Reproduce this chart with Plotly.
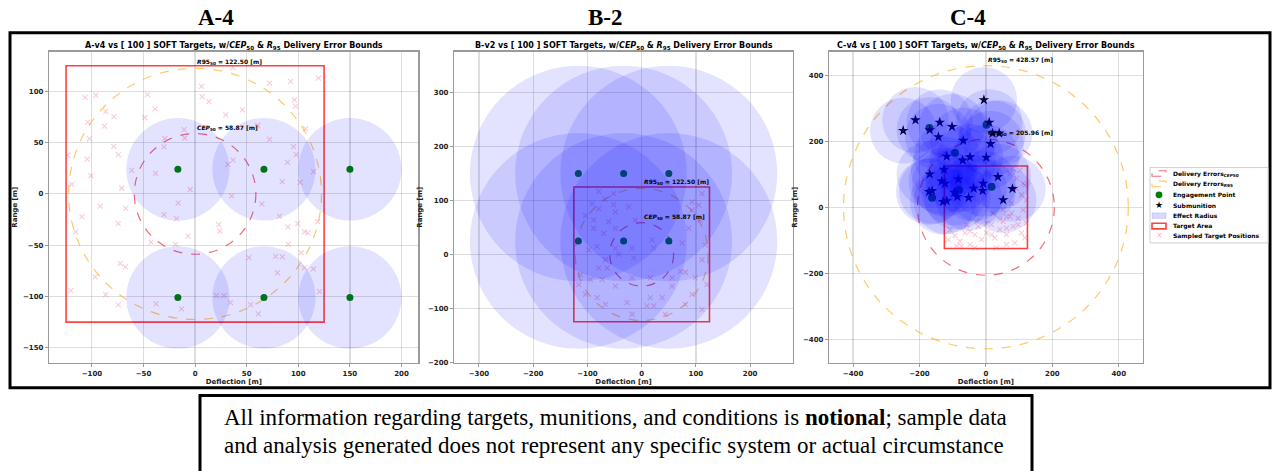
import plotly.graph_objects as go

W, H = 1273, 471

# ---------------- data ----------------
panel_labels = ["A-4", "B-2", "C-4"]
panel_systems = ["A-v4", "B-v2", "C-v4"]
n_targets = 100
target_half = 125.0
cep50 = [58.87, 58.87, 205.96]
r95 = [122.50, 122.50, 428.57]
effect_radius = [50.0, 200.0, 100.0]

a_eng_x = [-16.7, 66.7, 150.0, -16.7, 66.7, 150.0]
a_eng_y = [24, 24, 24, -101, -101, -101]
b_eng_x = [-116.7, -33.3, 50.0, -116.7, -33.3, 50.0]
b_eng_y = [150, 150, 150, 25, 25, 25]
c_eng_x = [-170, 2, -93, -81, -162, 17]
c_eng_y = [240, 250, 165, 52, 29, 62]

c_sub_x = [-6, -212, -249, -139, -102, -169, -143, -68, 10, 14, 20, 40, -118, -48, -70, 1, -126,
           -169, -133, -83, -123, -8, 36, -10, -37, 80, -171, -162, -95, -86, -52, -129, -118, 52]
c_sub_y = [325, 264, 232, 257, 244, 234, 213, 202, 257, 192, 224, 224, 154, 152, 142, 151, 114,
           100, 79, 85, 72, 72, 92, 50, 57, 56, 47, 50, 45, 32, 29, 17, 19, 22]

a_tgt_x = [-106.6, -96.2, -86.6, -78.6, -104, -87.9, -102.4, -78.9, -74.4, -104.6,
           -100.8, -119.4, -123.3, -46, -38.9, -48.9, -10.6, -10, -29.3, -30.2,
           -61.4, -38.3, -4.8, -71.1, -16.4, -30.2, -18, -91.8, -67.2, -109.8,
           -74.4, -115.6, -6.8, -42.8, -18.9, -72.5, -67.6, -96.9, -86.6, -120.4,
           -74.4, -37.7, -13.1,
           36.7, 6.2, 72.2, 92.5, 119.5, 6.8, 13.5, 96.3, 97.3, 45.8,
           29.7, 60.6, 107, 72.2, 95.4, 98, 36.7, 31.9, 89.6, 84.4,
           35.5, 101.8, 114.7, 64.7, 81.8, 22.9, 23.9, 89.9, 118.6, 109.2,
           52.2, 78, 84.4, 79.9, 106, 20.7, 28, 34.2, 53.8, 61.3,
           120.5, 114.7, 102.8, 106, 99.5, 90.2]
a_tgt_y = [94.2, 96.4, 80.3, 75.4, 70, 66.1, 53.9, 46.4, 38.4, 33.8,
           17.8, 9.4, 37.7, 96.7, 82.9, 74.5, 62.6, 54.5, 53.9, 45.8,
           22.9, 20, 4.3, 5.5, -9, -20.3, -24.2, -11.9, -14.1, -22.2,
           -29, -37, -41.2, -47, -49.3, -68, -71.2, -80.9, -98.3, -94.4,
           -108.3, -107.3, -112.2,
           123.2, 104.8, 108, 109.7, 112.9, 94.8, 89.9, 91.6, 85.5, 81.9,
           77.1, 66.7, 63.5, 53.2, 46.1, 38.4, 32.9, 28.7, 30.7, 12,
           -1.9, 11.3, 21.7, -9.7, -21.9, -30, -36.4, -32.2, -27.1, -38,
           -62.2, -60.9, -61.5, -77, -71.9, -99.2, -99.2, -106, -107.9, -117,
           -95.4, -73.1, -57.3, -37, -29, -49.3]

b_tgt_x = [-79.2, -51.6, -68.1, -91.3, -51.6, -23.9, -79.2, -48.4, -103.7, -88.4,
           -60.8, -11.6, -88.4, -70, -48.4, -82.1, -97.6, 19.2, -48.4, -17.7,
           22.1, -42.4, -66.9, -14.7, 86.6, 74.4, 108.1, 92.8, 105, 92.8,
           111.2, -112.9, -94.5, -72.9, -48.4, -17.7, 16, 56, 71.3, 80.5,
           98.9, -103.7, -82.1, -66.9, -26.9, 16, 37.6, 56, 92.8, 80.5,
           9.9, 22.1, -17.7, 43.6, 111.2, 120.4, 111.2, 117.3, -79.2, -63.7, -116]
b_tgt_y = [116.9, 112.7, 102.2, 94.3, 92.5, 88.2, 85.1, 79, 71.7, 63.6,
           60.7, 63.6, 48.3, 39.2, 48.3, 14.7, 8.5, 26.8, 11.6, 11.6,
           11.6, 0.6, -9.9, -6.8, 48.3, 20.8, 63.6, 82, 91.2, 97.4,
           112.7, -37.5, -46.7, -46.7, -58.8, -43.6, -43.6, -43.6, -31.3, -33.1,
           -43.6, -74.3, -80.3, -92.6, -89.5, -80.3, -80.3, -58.8, -74.3, -92.6,
           -95.6, -95.6, -111, -111, -101.8, -55.9, -9.9, 17.6, -25.2, -25.2, -55.9]

c_tgt_x = [-93, -78, -63, -48, -33, -23, -13, 2, 17, 27, 42, 52, 62, 72, 82, 87, 97, 107, 112, 102,
           82, 92, 112, 107, 77, 52, 22, -28, -58, -88, -33, 32, 62, 117, 122, 42, 2, -48, -73, -113,
           92, 72, 122, 77, 17, -108, 62, 97, 62, 117]
c_tgt_y = [-86, -103, -78, -113, -83, -58, -98, -78, -53, -93, -68, -43, -83, -28, -58, -108, -33, -78, -8, 112,
           117, 87, 72, 37, 12, -8, -18, -43, -53, -118, -123, -123, -113, -93, -48, -38, -48, -73, -118, -98,
           57, 102, 22, -18, -83, -68, -63, -53, -28, 67]

a_xticks = [-100, -50, 0, 50, 100, 150, 200]
a_yticks = [-150, -100, -50, 0, 50, 100]
b_xticks = [-300, -200, -100, 0, 100, 200]
b_yticks = [-200, -100, 0, 100, 200, 300]
c_xticks = [-400, -200, 0, 200, 400]
c_yticks = [-400, -200, 0, 200, 400]

axis_ranges = {
    "A": ([-141.25, 216.25], [-164.8, 138.8]),
    "B": ([-345.4, 278.4], [-201.25, 376.25]),
    "C": ([-471.4, 471.4], [-471.4, 471.4]),
}

# ---------------- layout geometry (pixels) ----------------
panel_px = [(49.3, 418.3), (454.3, 792.7), (829.3, 1142.5)]
plot_top, plot_bot = 52, 366


def fx(px):
    return px / W


def fy(py):
    return 1 - py / H


SANS = "DejaVu Sans"
SERIF = "Liberation Serif"
EFFECT_FILL = "rgba(0,0,255,0.11)"
CEP_COLOR = "rgba(235,30,50,0.65)"
R95_COLOR = "rgba(255,165,0,0.6)"
RECT_COLOR = "rgba(255,0,0,0.75)"
TGT_COLOR = "rgba(240,90,130,0.32)"

fig = go.Figure()
shapes = []
annotations = []

panels = [
    ("A", a_tgt_x, a_tgt_y, a_eng_x, a_eng_y, None, None, a_xticks, a_yticks),
    ("B", b_tgt_x, b_tgt_y, b_eng_x, b_eng_y, None, None, b_xticks, b_yticks),
    ("C", c_tgt_x, c_tgt_y, c_eng_x, c_eng_y, c_sub_x, c_sub_y, c_xticks, c_yticks),
]

for i, (key, tx, ty, ex, ey, sx, sy, xt, yt) in enumerate(panels):
    n = "" if i == 0 else str(i + 1)
    xr, yr = "x" + n, "y" + n
    xa, ya = "xaxis" + n, "yaxis" + n
    xrange_, yrange_ = axis_ranges[key]
    x0p, x1p = panel_px[i]

    tick_font = dict(family=SANS, size=7, color="#222", weight="bold")
    title_font = dict(family=SANS, size=7, color="#222", weight="bold")
    common = dict(showgrid=True, gridcolor="rgba(0,0,0,0.13)", gridwidth=1.2, zeroline=False,
                  showline=True, linecolor="#9a9a9a", linewidth=1.5, mirror=True,
                  ticks="outside", ticklen=3, tickwidth=1, tickcolor="#9a9a9a",
                  tickfont=tick_font, fixedrange=True)
    fig.layout[xa] = dict(common, domain=[fx(x0p), fx(x1p)], range=xrange_, anchor=yr,
                          tickvals=xt,
                          title=dict(text="Deflection [m]", standoff=2, font=title_font))
    fig.layout[ya] = dict(common, domain=[fy(plot_bot), fy(plot_top)], range=yrange_, anchor=xr,
                          tickvals=yt,
                          title=dict(text="Range [m]", standoff=4, font=title_font))

    # target area
    shapes.append(dict(type="rect", xref=xr, yref=yr, x0=-target_half, x1=target_half,
                       y0=-target_half, y1=target_half, line=dict(color=RECT_COLOR, width=1.6),
                       layer="between"))
    # delivery error circles
    shapes.append(dict(type="circle", xref=xr, yref=yr, x0=-cep50[i], x1=cep50[i],
                       y0=-cep50[i], y1=cep50[i], line=dict(color=CEP_COLOR, width=1.2, dash="dash"),
                       layer="between"))
    shapes.append(dict(type="circle", xref=xr, yref=yr, x0=-r95[i], x1=r95[i],
                       y0=-r95[i], y1=r95[i], line=dict(color=R95_COLOR, width=1.2, dash="dash"),
                       layer="between"))

    # sampled targets
    fig.add_trace(go.Scatter(x=tx, y=ty, mode="markers", xaxis=xr, yaxis=yr, showlegend=False,
                             marker=dict(symbol="x-thin", size=5, line=dict(color=TGT_COLOR, width=1.1))))
    # engagement points
    fig.add_trace(go.Scatter(x=ex, y=ey, mode="markers", xaxis=xr, yaxis=yr, showlegend=False,
                             marker=dict(symbol="circle", size=7 if sx is None else 8, color="#008000")))
    centers = list(zip(ex, ey))
    if sx is not None:
        fig.add_trace(go.Scatter(x=sx, y=sy, mode="markers", xaxis=xr, yaxis=yr, showlegend=False,
                                 marker=dict(symbol="star", size=8, color="black")))
        centers = list(zip(sx, sy))

    # effect radius circles (drawn on top, semi-transparent)
    r = effect_radius[i]
    for cx, cy in centers:
        shapes.append(dict(type="circle", xref=xr, yref=yr, x0=cx - r, x1=cx + r, y0=cy - r, y1=cy + r,
                           fillcolor=EFFECT_FILL, line=dict(width=0), layer="above"))

    # labels for CEP / R95
    lab_font = dict(family=SANS, size=6, color="black", weight="bold")
    annotations.append(dict(xref=xr, yref=yr, x=0, y=r95[i], xanchor="left", yanchor="bottom",
                            showarrow=False, font=lab_font,
                            text=f"<i>R</i>95<sub>50</sub> = {r95[i]:.2f} [m]"))
    annotations.append(dict(xref=xr, yref=yr, x=0, y=cep50[i], xanchor="left", yanchor="bottom",
                            showarrow=False, font=lab_font,
                            text=f"<i>CEP</i><sub>50</sub> = {cep50[i]:.2f} [m]"))

    # subplot title
    annotations.append(dict(xref="paper", yref="paper", x=fx((x0p + x1p) / 2), y=fy(46),
                            xanchor="center", yanchor="middle", showarrow=False,
                            font=dict(family=SANS, size=8, color="black", weight="bold"),
                            text=f"{panel_systems[i]} vs [ {n_targets} ] SOFT Targets, w/<i>CEP</i><sub>50</sub> &amp; "
                                 f"<i>R</i><sub>95</sub> Delivery Error Bounds"))

# big panel labels
for lab, cx in zip(panel_labels, [216, 605, 968]):
    annotations.append(dict(xref="paper", yref="paper", x=fx(cx), y=fy(18), xanchor="center",
                            yanchor="middle", showarrow=False,
                            font=dict(family=SERIF, size=23, color="black", weight="bold"), text=lab))

# outer frame
shapes.append(dict(type="rect", xref="paper", yref="paper", x0=fx(10), x1=fx(1270), y0=fy(391), y1=fy(33),
                   line=dict(color="black", width=3), layer="above"))
# disclaimer box
shapes.append(dict(type="rect", xref="paper", yref="paper", x0=fx(200), x1=fx(1032), y0=fy(480), y1=fy(399),
                   line=dict(color="black", width=3), layer="above"))
annotations.append(dict(xref="paper", yref="paper", x=fx(222), y=fy(421), xanchor="left", yanchor="middle",
                        showarrow=False, font=dict(family=SERIF, size=23, color="black"),
                        text="All information regarding targets, munitions, and conditions is <b>notional</b>; sample data"))
annotations.append(dict(xref="paper", yref="paper", x=fx(222), y=fy(449), xanchor="left", yanchor="middle",
                        showarrow=False, font=dict(family=SERIF, size=23, color="black"),
                        text="and analysis generated does not represent any specific system or actual circumstance"))

# compact legend (drawn manually to match the tight matplotlib spacing)
lg_x0, lg_x1, lg_y0, lg_y1 = 1150, 1268, 169, 245
shapes.append(dict(type="rect", xref="paper", yref="paper", x0=fx(lg_x0), x1=fx(lg_x1), y0=fy(lg_y1), y1=fy(lg_y0),
                   line=dict(color="#d0d0d0", width=1), fillcolor="rgba(255,255,255,0.85)", layer="above"))
legend_rows = [175, 185.5, 196.5, 207, 217.5, 228, 238]
legend_text = ["Delivery Errors<sub><i>CEP</i>50</sub>", "Delivery Errors<sub><i>R</i>95</sub>",
               "Engagement Point", "Submunition", "Effect Radius", "Target Area", "Sampled Target Positions"]
ix0, ix1 = 1152, 1166
icx = (ix0 + ix1) / 2
for k, row in enumerate(legend_rows):
    if k in (0, 1, 4, 5):
        style = {0: dict(line=dict(color=CEP_COLOR, width=1.1, dash="dash")),
                 1: dict(line=dict(color=R95_COLOR, width=1.1, dash="dash")),
                 4: dict(line=dict(color="rgba(0,0,255,0.15)", width=0.8), fillcolor="rgba(0,0,255,0.15)"),
                 5: dict(line=dict(color=RECT_COLOR, width=1.6))}[k]
        shapes.append(dict(type="rect", xref="paper", yref="paper", x0=fx(ix0), x1=fx(ix1),
                           y0=fy(row + 2.8), y1=fy(row - 2.8), layer="above", **style))
    elif k == 2:
        shapes.append(dict(type="circle", xref="paper", yref="paper", x0=fx(icx - 3.4), x1=fx(icx + 3.4),
                           y0=fy(row + 3.4), y1=fy(row - 3.4), fillcolor="#008000",
                           line=dict(width=0), layer="above"))
    elif k == 3:
        annotations.append(dict(xref="paper", yref="paper", x=fx(icx), y=fy(row), xanchor="center",
                                yanchor="middle", showarrow=False, text="★",
                                font=dict(family=SANS, size=9, color="black")))
    elif k == 6:
        annotations.append(dict(xref="paper", yref="paper", x=fx(icx), y=fy(row), xanchor="center",
                                yanchor="middle", showarrow=False, text="×",
                                font=dict(family=SANS, size=8, color="rgba(240,90,130,0.5)")))
    annotations.append(dict(xref="paper", yref="paper", x=fx(1171), y=fy(row), xanchor="left",
                            yanchor="middle", showarrow=False, text=legend_text[k],
                            font=dict(family=SANS, size=6, color="black", weight="bold")))

fig.update_layout(width=W, height=H, margin=dict(l=0, r=0, t=0, b=0), autosize=False,
                  paper_bgcolor="white", plot_bgcolor="white", showlegend=False,
                  shapes=shapes, annotations=annotations)

fig.write_html("out.html", config={"displayModeBar": False, "staticPlot": True},
               post_script="document.body.style.margin='0';document.body.style.overflow='hidden';")
